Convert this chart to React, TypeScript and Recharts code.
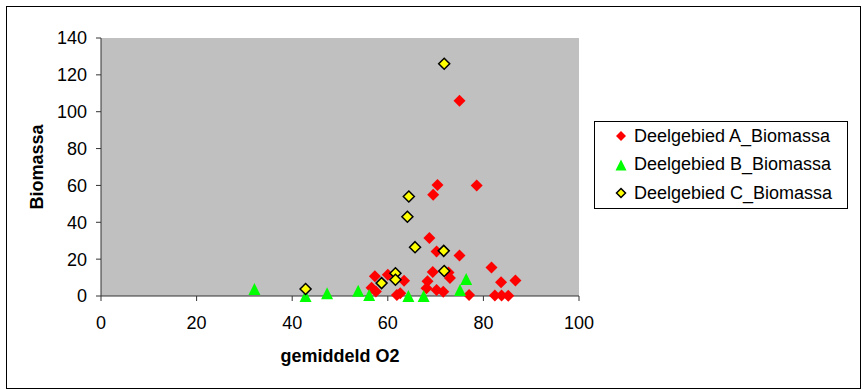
import React from 'react'
import {
  ScatterChart,
  Scatter,
  XAxis,
  YAxis,
  CartesianGrid,
  Legend,
  Label,
} from 'recharts'

const seriesNames = [
  'Deelgebied A_Biomassa',
  'Deelgebied B_Biomassa',
  'Deelgebied C_Biomassa',
]
const xTicks = [0, 20, 40, 60, 80, 100]
const yTicks = [0, 20, 40, 60, 80, 100, 120, 140]

// [gemiddeld O2, biomassa]
const pointsA: [number, number][] = [
  [75, 106], [78.6, 60], [70.4, 60.3], [69.5, 55], [68.7, 31.5],
  [70.2, 24.2], [75, 22], [81.7, 15.5], [69.4, 13], [72.7, 12.8],
  [73, 9.8], [57.3, 10.7], [60, 11.5], [63.4, 8.3], [68.3, 8],
  [83.7, 7.5], [86.7, 8.4], [68.1, 4.2], [70.2, 3.3], [71.6, 2.3],
  [56.6, 4.5], [57.5, 2.5], [62.6, 1.5], [61.9, 0.5], [77, 0.5],
  [82.4, 0.3], [83.8, 0.3], [85.2, 0.2],
]
const pointsB: [number, number][] = [
  [32.1, 3.8], [42.8, 0], [47.3, 1.5], [53.8, 2.8], [56.1, 0.5],
  [64.3, 0], [67.5, 0], [75.1, 3.2], [76.4, 9.2],
]
const pointsC: [number, number][] = [
  [71.8, 126], [64.4, 54], [64.1, 43], [65.7, 26.5], [71.7, 24.5],
  [71.8, 13.6], [61.6, 12.3], [61.6, 8.8], [58.7, 7], [42.8, 3.8],
]

const toRows = (pts: [number, number][]) => pts.map(([x, y]) => ({ x, y }))

const font = "'Liberation Sans', Arial, sans-serif"
const axisColor = '#333'

function Diamond(props: any) {
  const { cx, cy, fill, stroke, r = 6 } = props
  if (cx == null || cy == null) return null
  return (
    <path
      d={`M${cx},${cy - r}L${cx + r},${cy}L${cx},${cy + r}L${cx - r},${cy}Z`}
      fill={fill}
      stroke={stroke || 'none'}
      strokeWidth={stroke ? 1.5 : 0}
    />
  )
}

function Triangle(props: any) {
  const { cx, cy, fill, r = 6 } = props
  if (cx == null || cy == null) return null
  return (
    <path
      d={`M${cx},${cy - r}L${cx + r},${cy + r}L${cx - r},${cy + r}Z`}
      fill={fill}
    />
  )
}

function LegendBox() {
  const icons = [
    <Diamond cx={7} cy={7} r={5} fill="#ff0000" />,
    <Triangle cx={7} cy={7} r={5.5} fill="#00ff00" />,
    <Diamond cx={7} cy={7} r={4.5} fill="#ffff00" stroke="#000" />,
  ]
  return (
    <div>
      {seriesNames.map((name, i) => (
        <div
          key={name}
          style={{
            display: 'flex',
            alignItems: 'center',
            height: 28.5,
            fontFamily: font,
            fontSize: 18,
            color: '#000',
          }}
        >
          <svg width={14} height={14} style={{ marginLeft: 19 }}>
            {icons[i]}
          </svg>
          <span style={{ marginLeft: 6, whiteSpace: 'nowrap' }}>{name}</span>
        </div>
      ))}
    </div>
  )
}

export default function App() {
  return (
    <div
      style={{
        position: 'absolute',
        left: 6,
        top: 6,
        width: 853,
        height: 381,
        border: '1px solid #000',
        background: '#fff',
      }}
    >
      <ScatterChart
        width={853}
        height={381}
        margin={{ top: 31, right: 281, left: 0, bottom: 0 }}
      >
        <CartesianGrid fill="#c0c0c0" horizontal={false} vertical={false} />
        <XAxis
          type="number"
          dataKey="x"
          domain={[0, 100]}
          ticks={xTicks}
          height={92}
          tickSize={5}
          tickMargin={15}
          stroke={axisColor}
          tick={{ fill: '#000', fontSize: 18, fontFamily: font }}
        >
          <Label
            content={({ viewBox }: any) => (
              <text
                x={viewBox.x + viewBox.width / 2}
                y={viewBox.y + 66}
                textAnchor="middle"
                fontFamily={font}
                fontSize={18}
                fontWeight="bold"
                fill="#000"
              >
                gemiddeld O2
              </text>
            )}
          />
        </XAxis>
        <YAxis
          type="number"
          dataKey="y"
          domain={[0, 140]}
          ticks={yTicks}
          width={94}
          tickSize={5}
          tickMargin={9}
          stroke={axisColor}
          tick={{ fill: '#000', fontSize: 18, fontFamily: font }}
        >
          <Label
            content={({ viewBox }: any) => {
              const x = viewBox.x + 36
              const y = viewBox.y + viewBox.height / 2
              return (
                <text
                  x={x}
                  y={y}
                  transform={`rotate(-90, ${x}, ${y})`}
                  textAnchor="middle"
                  fontFamily={font}
                  fontSize={18}
                  fontWeight="bold"
                  fill="#000"
                >
                  Biomassa
                </text>
              )
            }}
          />
        </YAxis>
        <Legend
          layout="vertical"
          align="center"
          verticalAlign="middle"
          content={() => <LegendBox />}
          wrapperStyle={{
            left: 587,
            top: 114,
            width: 254,
            height: 88,
            border: '1px solid #000',
            background: '#fff',
            boxSizing: 'border-box',
          }}
        />
        <Scatter
          name={seriesNames[0]}
          data={toRows(pointsA)}
          fill="#ff0000"
          isAnimationActive={false}
          shape={(p: any) => <Diamond cx={p.cx} cy={p.cy} fill="#ff0000" />}
        />
        <Scatter
          name={seriesNames[1]}
          data={toRows(pointsB)}
          fill="#00ff00"
          isAnimationActive={false}
          shape={(p: any) => <Triangle cx={p.cx} cy={p.cy} fill="#00ff00" />}
        />
        <Scatter
          name={seriesNames[2]}
          data={toRows(pointsC)}
          fill="#ffff00"
          isAnimationActive={false}
          shape={(p: any) => (
            <Diamond cx={p.cx} cy={p.cy} r={5.5} fill="#ffff00" stroke="#000" />
          )}
        />
      </ScatterChart>
    </div>
  )
}
